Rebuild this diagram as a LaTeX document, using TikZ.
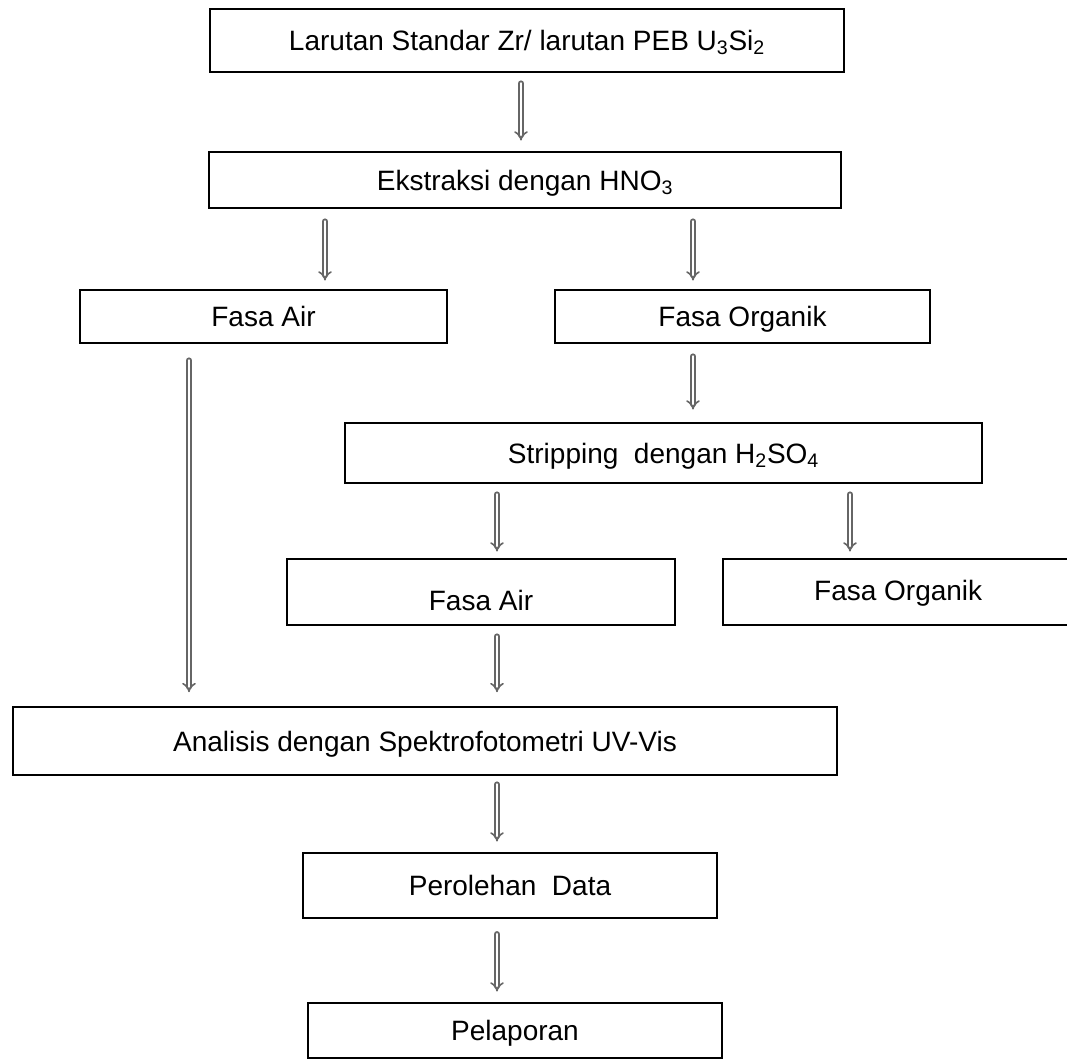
\documentclass[tikz,border=0pt]{standalone}
\usepackage{fontspec}
\setmainfont{Liberation Sans}
\usetikzlibrary{arrows.meta}
\begin{document}
\begin{tikzpicture}[x=0.75pt,y=-0.75pt,
  box/.style={draw=black, line width=2.2pt, rectangle, inner sep=0pt, font=\fontsize{21}{25}\selectfont, fill=white, text height=15pt, text depth=0pt},
  arr/.style={draw=black!60, line width=1.2pt, double=white, double distance=2.2pt, line cap=round, -{Implies[length=4.5pt]}}]
\useasboundingbox[fill=white] (0,0) rectangle (1067,1063);
\node[box, minimum width=634*0.75pt, minimum height=63*0.75pt] (top) at (527,40.5) {Larutan Standar Zr/ larutan PEB U\textsubscript{3}Si\textsubscript{2}};
\node[box, minimum width=632*0.75pt, minimum height=56*0.75pt] (ekstr) at (525,180) {Ekstraksi dengan HNO\textsubscript{3}};
\node[box, minimum width=367*0.75pt, minimum height=53*0.75pt] (airL) at (263.5,316.5) {Fasa Air};
\node[box, minimum width=375*0.75pt, minimum height=53*0.75pt] (orgU) at (742.5,316.5) {Fasa Organik};
\node[box, minimum width=637*0.75pt, minimum height=60*0.75pt] (strip) at (663.5,453) {Stripping\ \ dengan H\textsubscript{2}SO\textsubscript{4}};
\node[box, minimum width=388*0.75pt, minimum height=66*0.75pt] (airM) at (481,592) {\raisebox{-6pt}{Fasa Air}};
\node[box, minimum width=357*0.75pt, minimum height=66*0.75pt] (orgR) at (901.5,592) {\raisebox{1.5pt}{\hspace{-5pt}Fasa Organik}};
\node[box, minimum width=824*0.75pt, minimum height=68*0.75pt] (anal) at (425,741) {Analisis dengan Spektrofotometri UV-Vis};
\node[box, minimum width=414*0.75pt, minimum height=65*0.75pt] (perol) at (510,885.5) {Perolehan\ \ Data};
\node[box, minimum width=414*0.75pt, minimum height=55*0.75pt] (pelap) at (515,1030.5) {Pelaporan};
\coordinate (xa) at (521,0);
\coordinate (xb) at (325,0);
\coordinate (xc) at (693,0);
\coordinate (xd) at (189,0);
\coordinate (xe) at (497,0);
\coordinate (xf) at (850,0);
\draw[arr] ([yshift=-7.5pt]top.south -| xa) -- ([yshift=7.5pt]ekstr.north -| xa);
\draw[arr] ([yshift=-9pt]ekstr.south -| xb) -- ([yshift=6pt]airL.north -| xb);
\draw[arr] ([yshift=-9pt]ekstr.south -| xc) -- ([yshift=6pt]airL.north -| xc);
\draw[arr] ([yshift=-9pt]orgU.south -| xc) -- ([yshift=9pt]strip.north -| xc);
\draw[arr] ([yshift=-12pt]airL.south -| xd) -- ([yshift=10pt]anal.north -| xd);
\draw[arr] ([yshift=-7.5pt]strip.south -| xe) -- ([yshift=4.5pt]airM.north -| xe);
\draw[arr] ([yshift=-7.5pt]strip.south -| xf) -- ([yshift=4.5pt]orgR.north -| xf);
\draw[arr] ([yshift=-7.5pt]airM.south -| xe) -- ([yshift=10pt]anal.north -| xe);
\draw[arr] ([yshift=-6pt]anal.south -| xe) -- ([yshift=7.5pt]perol.north -| xe);
\draw[arr] ([yshift=-11pt]perol.south -| xe) -- ([yshift=7.5pt]pelap.north -| xe);
\end{tikzpicture}
\end{document}
